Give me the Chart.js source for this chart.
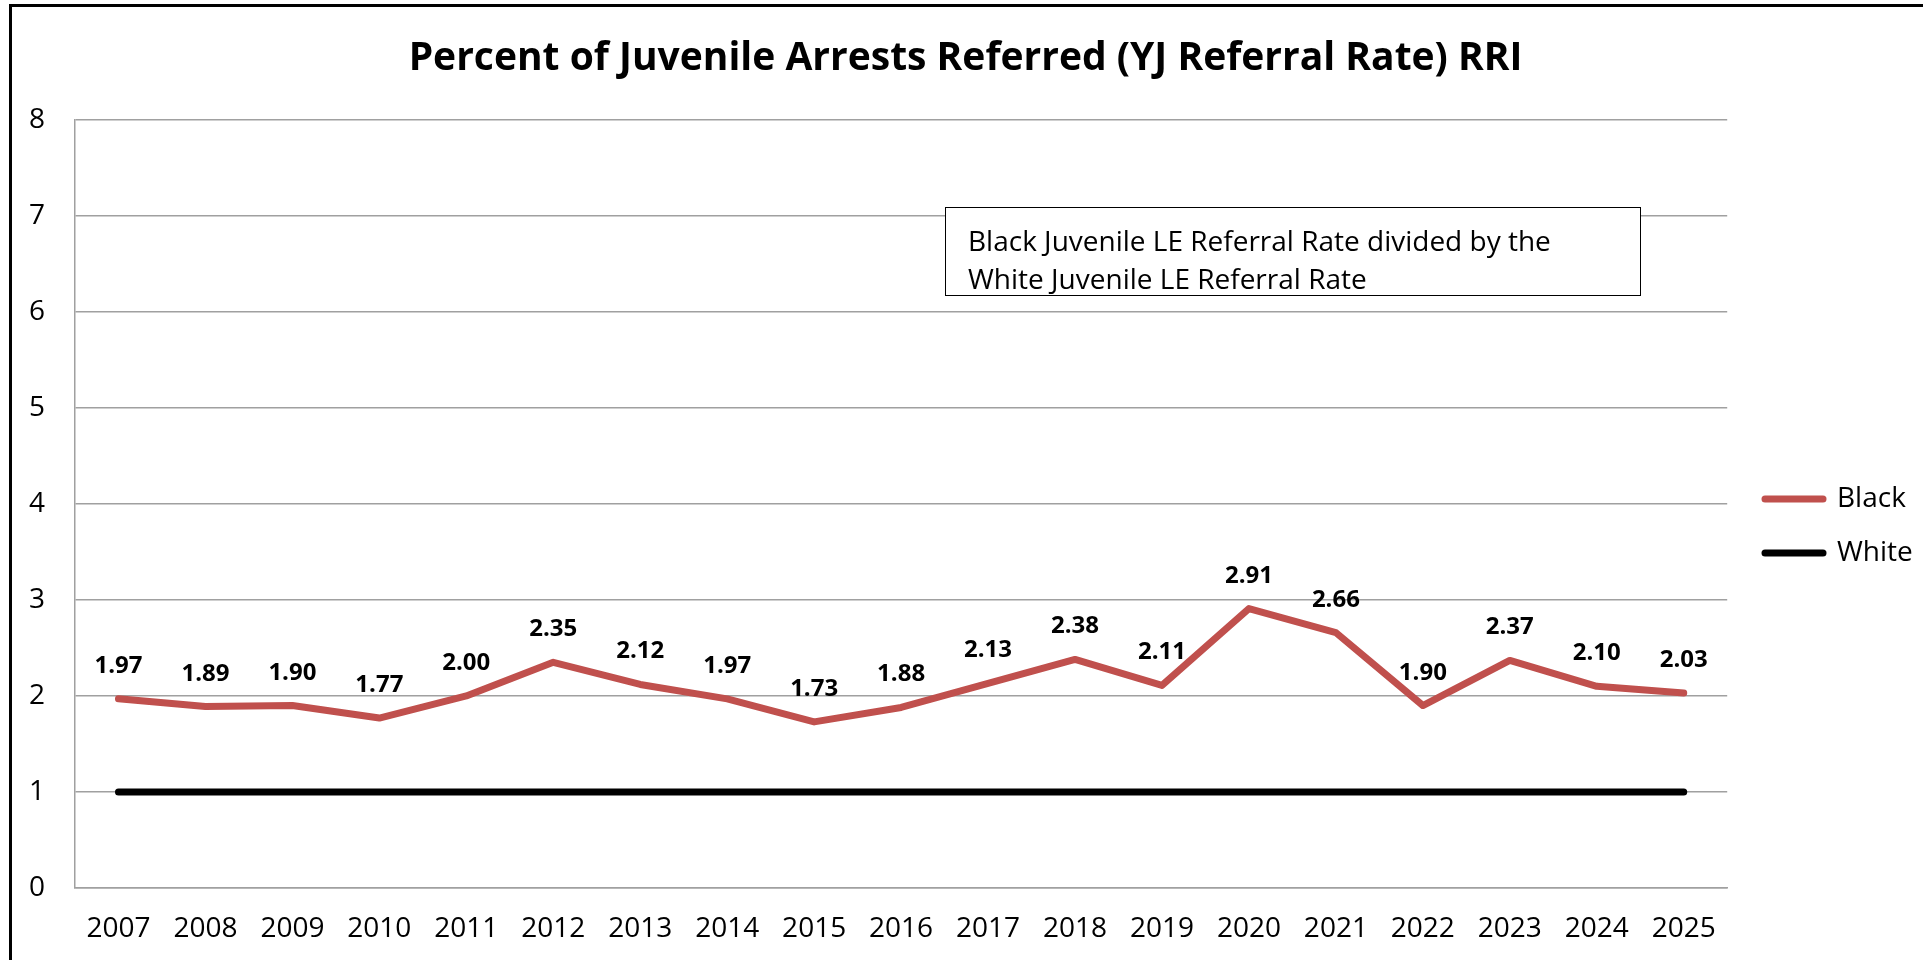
<!DOCTYPE html>
<html>
<head>
<meta charset="utf-8">
<title>YJ Referral Rate RRI</title>
<script src="https://cdn.jsdelivr.net/npm/chart.js@4.4.0/dist/chart.umd.min.js"></script>
<style>
  html, body { margin: 0; padding: 0; background: #fff; overflow: hidden; }
  #wrap { position: relative; width: 1923px; height: 960px; }
  #frame {
    position: absolute; left: 9px; top: 4px; width: 1940px; height: 1000px;
    border-left: 3px solid #000; border-top: 3px solid #000; pointer-events: none;
  }
  #note {
    position: absolute; left: 945px; top: 207px; width: 696px; height: 89px;
    box-sizing: border-box; border: 1.5px solid #000; background: #fff;
    font-family: "Open Sans", sans-serif; font-size: 28px; line-height: 38px;
    padding: 13px 0 0 22px; color: #000; white-space: nowrap;
  }
</style>
</head>
<body>
<div id="wrap">
  <canvas id="rriChart" width="1923" height="960"></canvas>
  <div id="frame"></div>
  <div id="note">Black Juvenile LE Referral Rate divided by the<br>White Juvenile LE Referral Rate</div>
</div>
<script>
// data
const years = ['2007', '2008', '2009', '2010', '2011', '2012', '2013', '2014', '2015', '2016',
               '2017', '2018', '2019', '2020', '2021', '2022', '2023', '2024', '2025'];
const blackRRI = [1.97, 1.89, 1.90, 1.77, 2.00, 2.35, 2.12, 1.97, 1.73, 1.88,
                  2.13, 2.38, 2.11, 2.91, 2.66, 1.90, 2.37, 2.10, 2.03];
const whiteRRI = [1, 1, 1, 1, 1, 1, 1, 1, 1, 1, 1, 1, 1, 1, 1, 1, 1, 1, 1];
const yMin = 0, yMax = 8, yStep = 1;

const gridGray = '#a0a0a0';
const font = 'Open Sans';

// value labels above the Black line
const valueLabels = {
    id: 'valueLabels',
    afterDatasetsDraw(chart) {
        const ctx = chart.ctx;
        const meta = chart.getDatasetMeta(0);
        ctx.save();
        ctx.font = 'bold 24px "' + font + '"';
        ctx.fillStyle = '#000';
        ctx.textAlign = 'center';
        ctx.textBaseline = 'alphabetic';
        meta.data.forEach((pt, i) => {
            ctx.fillText(blackRRI[i].toFixed(2), pt.x, pt.y - 26);
        });
        ctx.restore();
    }
};

// nudge legend and title to where Excel put them
const placeBoxes = {
    id: 'placeBoxes',
    afterLayout(chart) {
        const lg = chart.legend;
        const w = lg.width;
        lg.left = 1739; lg.right = lg.left + w;
        lg.top = 459; lg.bottom = 593; lg.height = 134;
        const t = chart.titleBlock;
        t.left += 10; t.right += 10;
    }
};

const ctx = document.getElementById('rriChart').getContext('2d');
const rriChart = new Chart(ctx, {
    type: 'line',
    data: {
        labels: years,
        datasets: [{
            label: 'Black',
            data: blackRRI,
            borderColor: '#C0504D',
            backgroundColor: '#C0504D',
            borderWidth: 7,
            borderCapStyle: 'round',
            borderJoinStyle: 'round',
            pointRadius: 0,
            tension: 0
        }, {
            label: 'White',
            data: whiteRRI,
            borderColor: '#000000',
            backgroundColor: '#000000',
            borderWidth: 7,
            borderCapStyle: 'round',
            borderJoinStyle: 'round',
            pointRadius: 0,
            tension: 0
        }]
    },
    options: {
        responsive: false,
        animation: false,
        layout: { padding: { left: 0, right: 12, top: 0, bottom: 0 } },
        plugins: {
            title: {
                display: true,
                text: 'Percent of Juvenile Arrests Referred (YJ Referral Rate) RRI',
                color: '#000',
                font: { family: font, size: 39, weight: 'bold' },
                padding: { top: 35, bottom: 38 }
            },
            legend: {
                display: true,
                position: 'right',
                labels: {
                    color: '#000',
                    font: { family: font, size: 28 },
                    usePointStyle: true,
                    pointStyle: 'line',
                    pointStyleWidth: 58,
                    padding: 26,
                    generateLabels(chart) {
                        return chart.data.datasets.map((ds, i) => ({
                            text: ds.label,
                            strokeStyle: ds.borderColor,
                            fillStyle: ds.borderColor,
                            lineWidth: ds.borderWidth,
                            lineCap: 'round',
                            pointStyle: 'line',
                            fontColor: '#000',
                            hidden: false,
                            datasetIndex: i
                        }));
                    }
                }
            },
            tooltip: { enabled: false }
        },
        scales: {
            x: {
                offset: true,
                grid: { display: false, drawTicks: false, offset: true },
                border: { display: true, color: gridGray, width: 1.5 },
                ticks: {
                    color: '#000',
                    font: { family: font, size: 28 },
                    padding: 24,
                    maxRotation: 0,
                    autoSkip: false
                },
                afterFit(scale) { scale.height = 72; }
            },
            y: {
                min: yMin,
                max: yMax,
                grid: { color: gridGray, lineWidth: 1.5, drawTicks: false },
                border: { display: true, color: gridGray, width: 1.5 },
                ticks: {
                    stepSize: yStep,
                    color: '#000',
                    font: { family: font, size: 28 },
                    padding: 30
                },
                afterFit(scale) { scale.width = 75; }
            }
        }
    },
    plugins: [valueLabels, placeBoxes]
});
</script>
</body>
</html>
